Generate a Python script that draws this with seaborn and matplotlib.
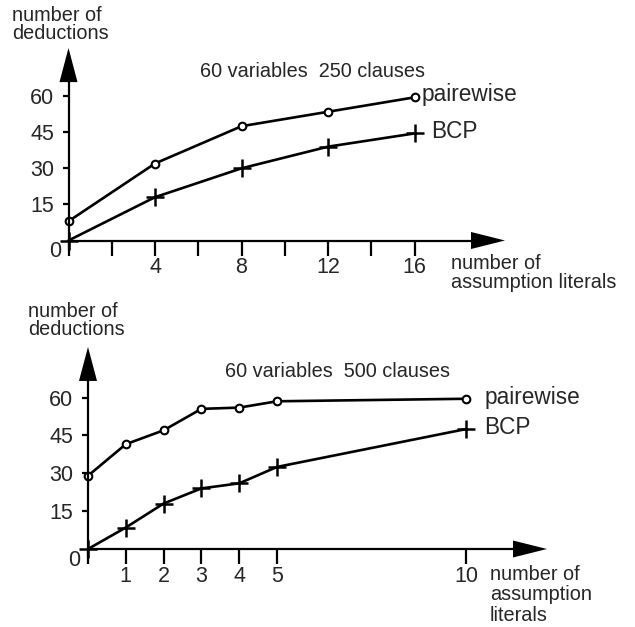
import matplotlib
matplotlib.use("Agg")
import matplotlib.pyplot as plt
import seaborn as sns

# upper panel: 60 variables, 250 clauses
top_x = [0, 4, 8, 12, 16]
top_pairwise = [8, 32, 47.5, 53.5, 59.5]
top_bcp = [0, 18, 30, 39, 44.5]
top_xticks = [4, 8, 12, 16]
top_minor = [0, 2, 6, 10, 14]

# lower panel: 60 variables, 500 clauses
bot_x = [0, 1, 2, 3, 4, 5, 10]
bot_pairwise = [29, 41.5, 47, 55.5, 56, 58.5, 59.5]
bot_bcp = [0, 8.5, 18, 24, 26, 32.5, 47.5]
bot_xticks = [1, 2, 3, 4, 5, 10]
bot_minor = [0]

y_ticks = [15, 30, 45, 60]

W, H = 635, 627
FONT = "Liberation Sans"
TICK_FS = 15.5
TEXT_FS = 14.3
SERIES_FS = 16.3

sns.set_style("white")
plt.rcParams["font.family"] = [FONT, "DejaVu Sans"]


def box(left, top, right, bottom):
    return [left / W, 1 - bottom / H, (right - left) / W, (bottom - top) / H]


def px(x, y):
    return x / W, 1 - y / H


def draw_panel(ax, xs, pw, bcp, xticks, minor, xmax, pxx, pxy):
    ax.set_xlim(0, xmax)
    ax.set_ylim(0, 80)
    sns.lineplot(x=xs, y=pw, ax=ax, color="black", lw=1.9, marker="o",
                 markersize=5.5, markerfacecolor="white", markeredgecolor="black",
                 markeredgewidth=1.5, clip_on=False)
    sns.lineplot(x=xs, y=bcp, ax=ax, color="black", lw=1.9, marker="+",
                 markersize=13, markeredgecolor="black", markeredgewidth=1.8,
                 clip_on=False)

    for s in ["top", "right"]:
        ax.spines[s].set_visible(False)
    hx = 34 / pxx  # arrow head length along x
    hy = 34 / pxy  # arrow head length along y
    ax.spines["bottom"].set_bounds(0, xmax - hx)
    ax.spines["left"].set_bounds(-8 / pxy, 80 - hy)
    for s in ["bottom", "left"]:
        ax.spines[s].set_linewidth(1.6)
        ax.spines[s].set_color("black")

    a = ax.arrow(xmax - hx, 0, hx, 0, width=0, head_width=17 / pxy, head_length=hx,
                 length_includes_head=True, fc="black", ec="black", lw=0)
    a.set_clip_on(False)
    a = ax.arrow(0, 80 - hy, 0, hy, width=0, head_width=18 / pxx, head_length=hy,
                 length_includes_head=True, fc="black", ec="black", lw=0)
    a.set_clip_on(False)

    ax.set_xticks(xticks)
    ax.set_xticks(minor, minor=True)
    ax.set_xticklabels([str(t) for t in xticks])
    ax.set_yticks(y_ticks)
    ax.set_yticklabels([str(t) for t in y_ticks])
    ax.tick_params(axis="x", which="both", direction="out", length=11, width=1.6,
                   color="black", pad=1, labelsize=TICK_FS, bottom=True)
    ax.tick_params(axis="y", direction="out", length=4, width=1.6, color="black",
                   pad=6.5, labelsize=TICK_FS, left=True)
    ax.set_xlabel("")
    ax.set_ylabel("")
    ax.grid(False)


fig = plt.figure(figsize=(W / 100, H / 100), dpi=100)

ax1 = fig.add_axes(box(68.5, 48, 505, 240.5))
draw_panel(ax1, top_x, top_pairwise, top_bcp, top_xticks, top_minor,
           (505 - 68.5) / 21.63, 21.63, 2.4)
ax1.text(6.1, 68, "60 variables  250 clauses", fontsize=TEXT_FS, va="baseline")
ax1.text(16.3, 57.8, "pairewise", fontsize=SERIES_FS, va="baseline", clip_on=False)
ax1.text(16.76, 42.8, "BCP", fontsize=SERIES_FS, va="baseline", clip_on=False)

ax2 = fig.add_axes(box(88, 347, 547, 549))
draw_panel(ax2, bot_x, bot_pairwise, bot_bcp, bot_xticks, bot_minor,
           (547 - 88) / 37.8, 37.8, 2.53)
ax2.text(3.62, 68, "60 variables  500 clauses", fontsize=TEXT_FS, va="baseline")
ax2.text(10.48, 57.3, "pairewise", fontsize=SERIES_FS, va="baseline", clip_on=False)
ax2.text(10.48, 45.7, "BCP", fontsize=SERIES_FS, va="baseline", clip_on=False)

# axis titles and origin labels
fig.text(*px(12, 6), "number of\ndeductions", fontsize=TEXT_FS, va="top", linespacing=0.95)
fig.text(*px(28, 302), "number of\ndeductions", fontsize=TEXT_FS, va="top", linespacing=0.95)
fig.text(*px(451, 254), "number of\nassumption literals", fontsize=TEXT_FS, va="top",
         linespacing=1.0)
fig.text(*px(490, 565), "number of\nassumption\nliterals", fontsize=TEXT_FS, va="top",
         linespacing=1.1)
fig.text(*px(55.5, 251), "0", fontsize=TICK_FS, ha="center", va="center")
fig.text(*px(74, 560), "0", fontsize=TICK_FS, ha="center", va="center")

fig.savefig("out.png", dpi=100)
